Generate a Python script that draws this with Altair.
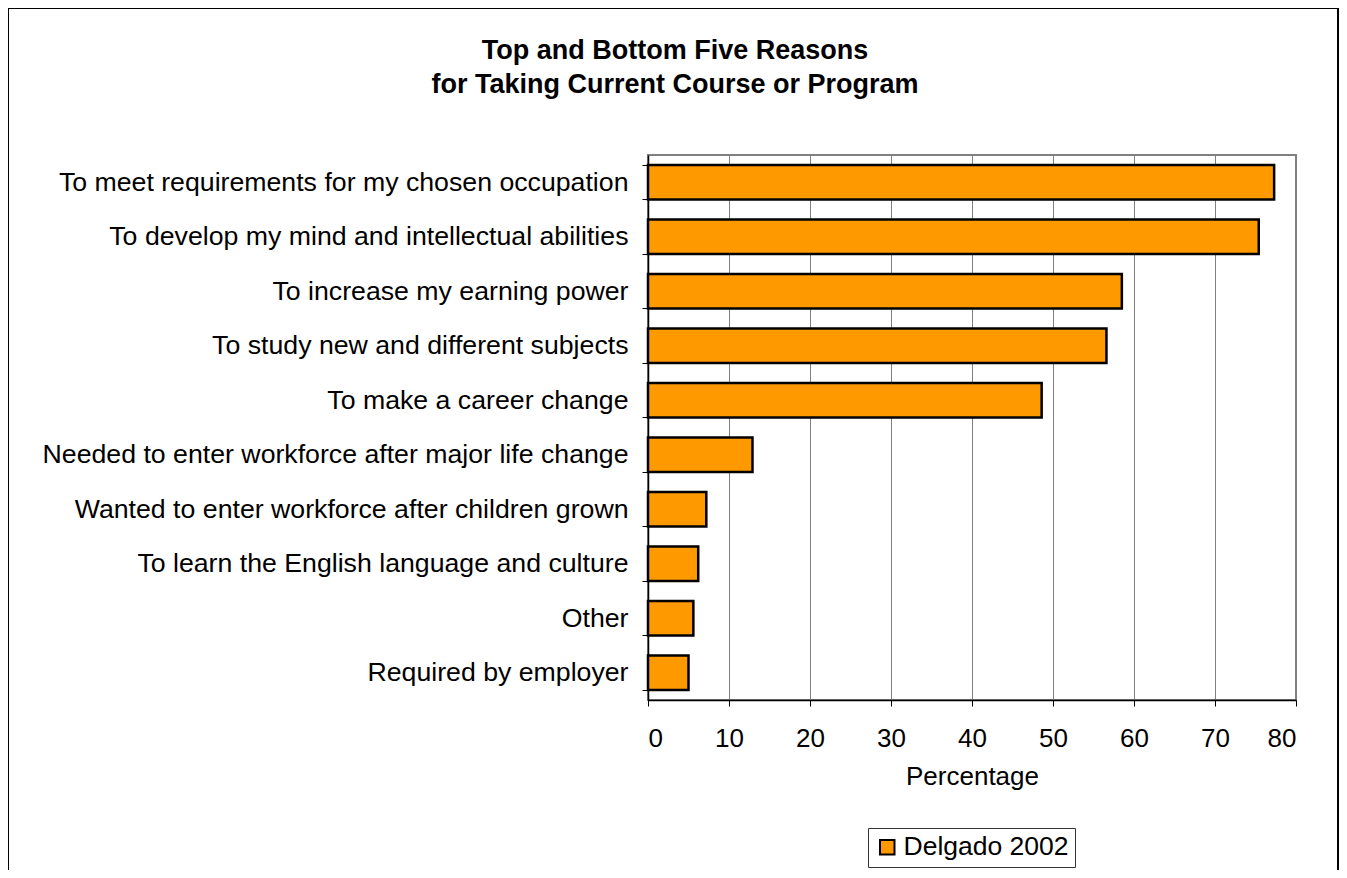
import altair as alt
import pandas as pd

reasons = [
    "To meet requirements for my chosen occupation",
    "To develop my mind and intellectual abilities",
    "To increase my earning power",
    "To study new and different subjects",
    "To make a career change",
    "Needed to enter workforce after major life change",
    "Wanted to enter workforce after children grown",
    "To learn the English language and culture",
    "Other",
    "Required by employer",
]
values = [77.3, 75.4, 58.5, 56.6, 48.6, 12.9, 7.2, 6.2, 5.6, 5.0]
series = ["Delgado 2002"] * len(reasons)
title_lines = ["Top and Bottom Five Reasons", "for Taking Current Course or Program"]

df = pd.DataFrame({"reason": reasons, "pct": values, "series": series})

FONT = "Liberation Sans"

bars = alt.Chart(df).mark_bar(stroke="black", strokeWidth=2.5).encode(
    y=alt.Y("reason:N", sort=reasons, title=None,
            scale=alt.Scale(paddingInner=0.37, paddingOuter=0.185),
            axis=alt.Axis(labelFontSize=26.7, labelFont=FONT, labelColor="black",
                          tickBand="extent", tickSize=6, tickColor="black",
                          domainColor="black", domainWidth=1.5, labelPadding=14,
                          labelLimit=700, grid=False)),
    x=alt.X("pct:Q", title="Percentage",
            scale=alt.Scale(domain=[0, 80], nice=False),
            axis=alt.Axis(values=list(range(0, 81, 10)), labelFontSize=26, labelFont=FONT,
                          labelColor="black", tickSize=6, tickColor="black",
                          domainColor="black", domainWidth=1.5, labelPadding=19,
                          titleFontSize=26, titleFont=FONT, titleFontWeight="normal",
                          titleColor="black", titlePadding=12,
                          grid=True, gridColor="#808080", gridWidth=1)),
    color=alt.Color("series:N", scale=alt.Scale(domain=["Delgado 2002"], range=["#FF9900"]),
                    legend=alt.Legend(title=None, orient="none", legendX=220, legendY=673,
                                      strokeColor="#333333", fillColor="white", padding=6,
                                      symbolType="square", symbolSize=210,
                                      symbolStrokeColor="black", symbolStrokeWidth=2,
                                      symbolFillColor="#FF9900", labelLimit=400,
                                      labelFontSize=26.5, labelFont=FONT, labelColor="black",
                                      labelOffset=3)),
)

frame = alt.Chart(df).mark_rect(fill=None, stroke="black", strokeWidth=1.5, clip=False).encode(
    x=alt.value(-640), x2=alt.value(690), y=alt.value(-147), y2=alt.value(740)
)

title1 = alt.Chart(pd.DataFrame({"t": [title_lines[0]]})).mark_text(
    font=FONT, fontSize=27, fontWeight="bold", color="black", align="center",
    baseline="alphabetic", clip=False
).encode(text="t:N", x=alt.value(27), y=alt.value(-96))

title2 = alt.Chart(pd.DataFrame({"t": [title_lines[1]]})).mark_text(
    font=FONT, fontSize=27, fontWeight="bold", color="black", align="center",
    baseline="alphabetic", clip=False
).encode(text="t:N", x=alt.value(27), y=alt.value(-62))

chart = alt.layer(frame, bars, title1, title2).properties(
    width=648, height=545,
    autosize=alt.AutoSizeParams(type="none"),
    padding={"left": 640, "top": 147, "right": 43, "bottom": 170},
).configure_view(stroke="#808080", strokeWidth=2)

chart.save("out.html", embed_options={"renderer": "svg", "actions": False})
